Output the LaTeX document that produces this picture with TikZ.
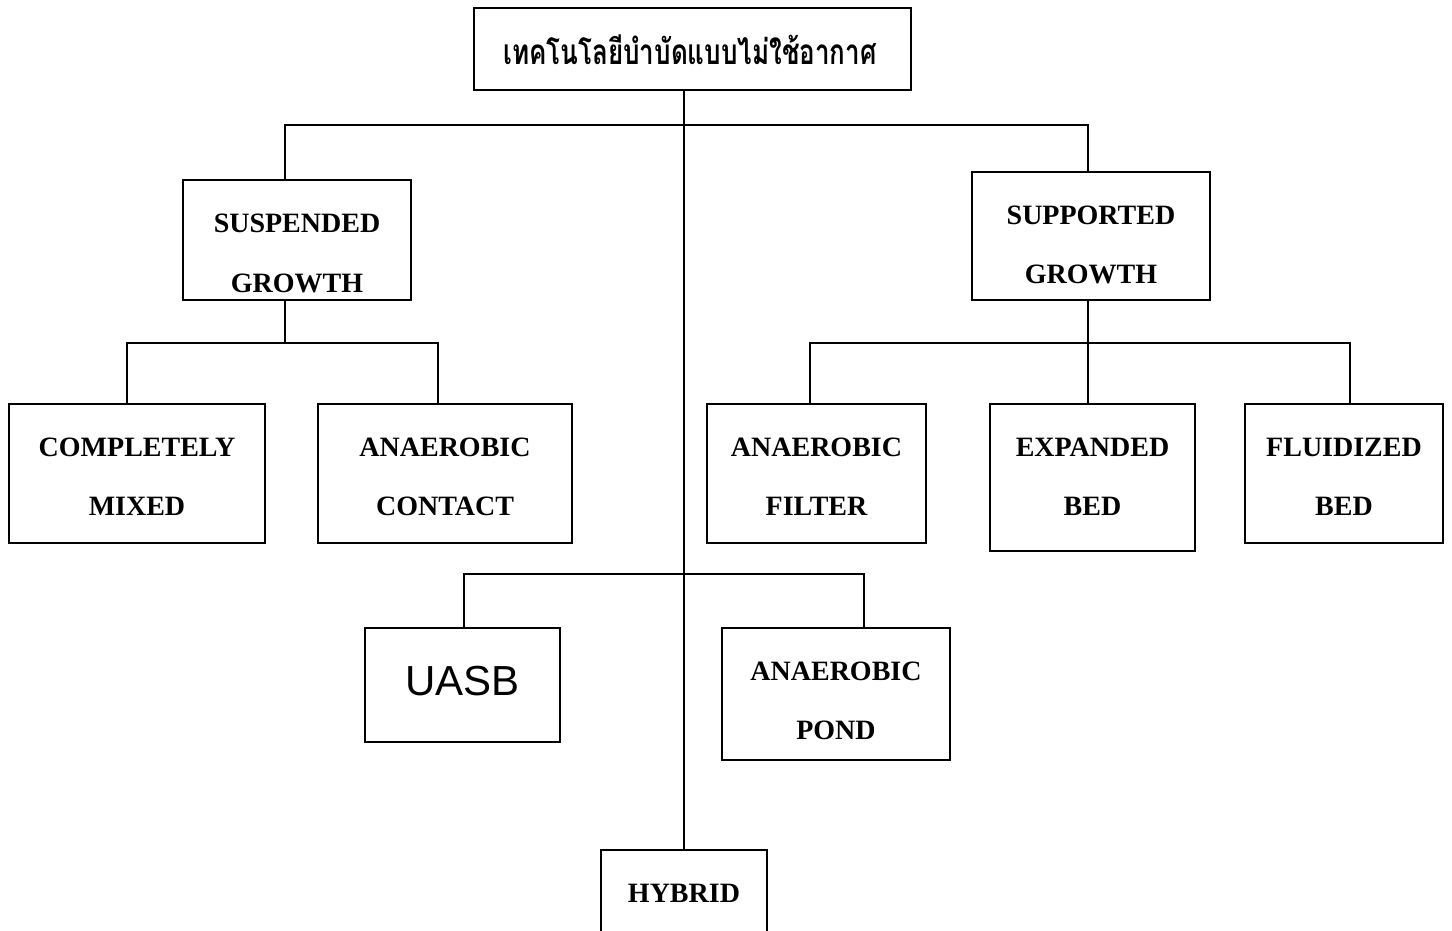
\documentclass[tikz,border=0pt]{standalone}
\usepackage{fontspec}
\setmainfont{Liberation Serif}
\newfontfamily\thaifont[Script=Thai]{Loma}
\newfontfamily\arialfont{Liberation Sans}
\begin{document}
\begin{tikzpicture}[x=1pt,y=-1pt,
  box/.style={draw=black,line width=1.6pt,rectangle,inner sep=0pt,fill=white},
  link/.style={draw=black,line width=1.6pt},
  lbl/.style={anchor=base,inner sep=0pt,font=\fontsize{28}{28}\selectfont\bfseries}]
\clip (0,0) rectangle (1452,931);
\fill[white] (0,0) rectangle (1452,931);

% connector corner points
\coordinate (sL) at (285,125);
\coordinate (sR) at (1088,125);
\coordinate (lb) at (285,343);
\coordinate (l1) at (127,343);
\coordinate (l2) at (438,343);
\coordinate (rb) at (1088,343);
\coordinate (r1) at (810,343);
\coordinate (r3) at (1350,343);
\coordinate (m1) at (464,574);
\coordinate (m2) at (864,574);

% boxes
\node[box,minimum width=437pt,minimum height=82pt] (title) at (692.5,49) {};
\node[box,minimum width=228pt,minimum height=120pt] (susp) at (297,240) {};
\node[box,minimum width=238pt,minimum height=128pt] (supp) at (1091,236) {};
\node[box,minimum width=256pt,minimum height=139pt] (cm) at (137,473.5) {};
\node[box,minimum width=254pt,minimum height=139pt] (ac) at (445,473.5) {};
\node[box,minimum width=219pt,minimum height=139pt] (af) at (816.5,473.5) {};
\node[box,minimum width=205pt,minimum height=147pt] (eb) at (1092.5,477.5) {};
\node[box,minimum width=198pt,minimum height=139pt] (fb) at (1344,473.5) {};
\node[box,minimum width=195pt,minimum height=114pt] (uasb) at (462.5,685) {};
\node[box,minimum width=228pt,minimum height=132pt] (ap) at (836,694) {};
\node[box,minimum width=166pt,minimum height=120pt] (hy) at (684,910) {};

% connectors
\draw[link] (title.south -| hy.north) -- (hy.north);
\draw[link] (sL |- susp.north) -- (sL) -- (sR) -- (sR |- supp.north);
\draw[link] (lb |- susp.south) -- (lb);
\draw[link] (l1 |- cm.north) -- (l1) -- (l2) -- (l2 |- ac.north);
\draw[link] (rb |- supp.south) -- (rb |- eb.north);
\draw[link] (r1 |- af.north) -- (r1) -- (r3) -- (r3 |- fb.north);
\draw[link] (m1 |- uasb.north) -- (m1) -- (m2) -- (m2 |- ap.north);

% labels
\node[anchor=center,inner sep=0pt,font=\thaifont\bfseries\fontsize{26}{26}\selectfont] (title-t) at (690,50) {\scalebox{1}[1.35]{เทคโนโลยีบำบัดแบบไม่ใช้อากาศ}};
\node[lbl] (susp-a) at (297,233) {SUSPENDED};
\node[lbl] (susp-b) at (297,292) {GROWTH};
\node[lbl] (supp-a) at (1091,224) {SUPPORTED};
\node[lbl] (supp-b) at (1091,283) {GROWTH};
\node[lbl] (cm-a) at (137,456) {COMPLETELY};
\node[lbl] (cm-b) at (137,515) {MIXED};
\node[lbl] (ac-a) at (445,456) {ANAEROBIC};
\node[lbl] (ac-b) at (445,515) {CONTACT};
\node[lbl] (af-a) at (816.5,456) {ANAEROBIC};
\node[lbl] (af-b) at (816.5,515) {FILTER};
\node[lbl] (eb-a) at (1092.5,456) {EXPANDED};
\node[lbl] (eb-b) at (1092.5,515) {BED};
\node[lbl] (fb-a) at (1344,456) {FLUIDIZED};
\node[lbl] (fb-b) at (1344,515) {BED};
\node[anchor=base,inner sep=0pt,font=\arialfont\fontsize{42}{42}\selectfont] (uasb-t) at (462.5,695) {UASB};
\node[lbl] (ap-a) at (836,680) {ANAEROBIC};
\node[lbl] (ap-b) at (836,739) {POND};
\node[lbl] (hy-a) at (684,902) {HYBRID};
\end{tikzpicture}
\end{document}
